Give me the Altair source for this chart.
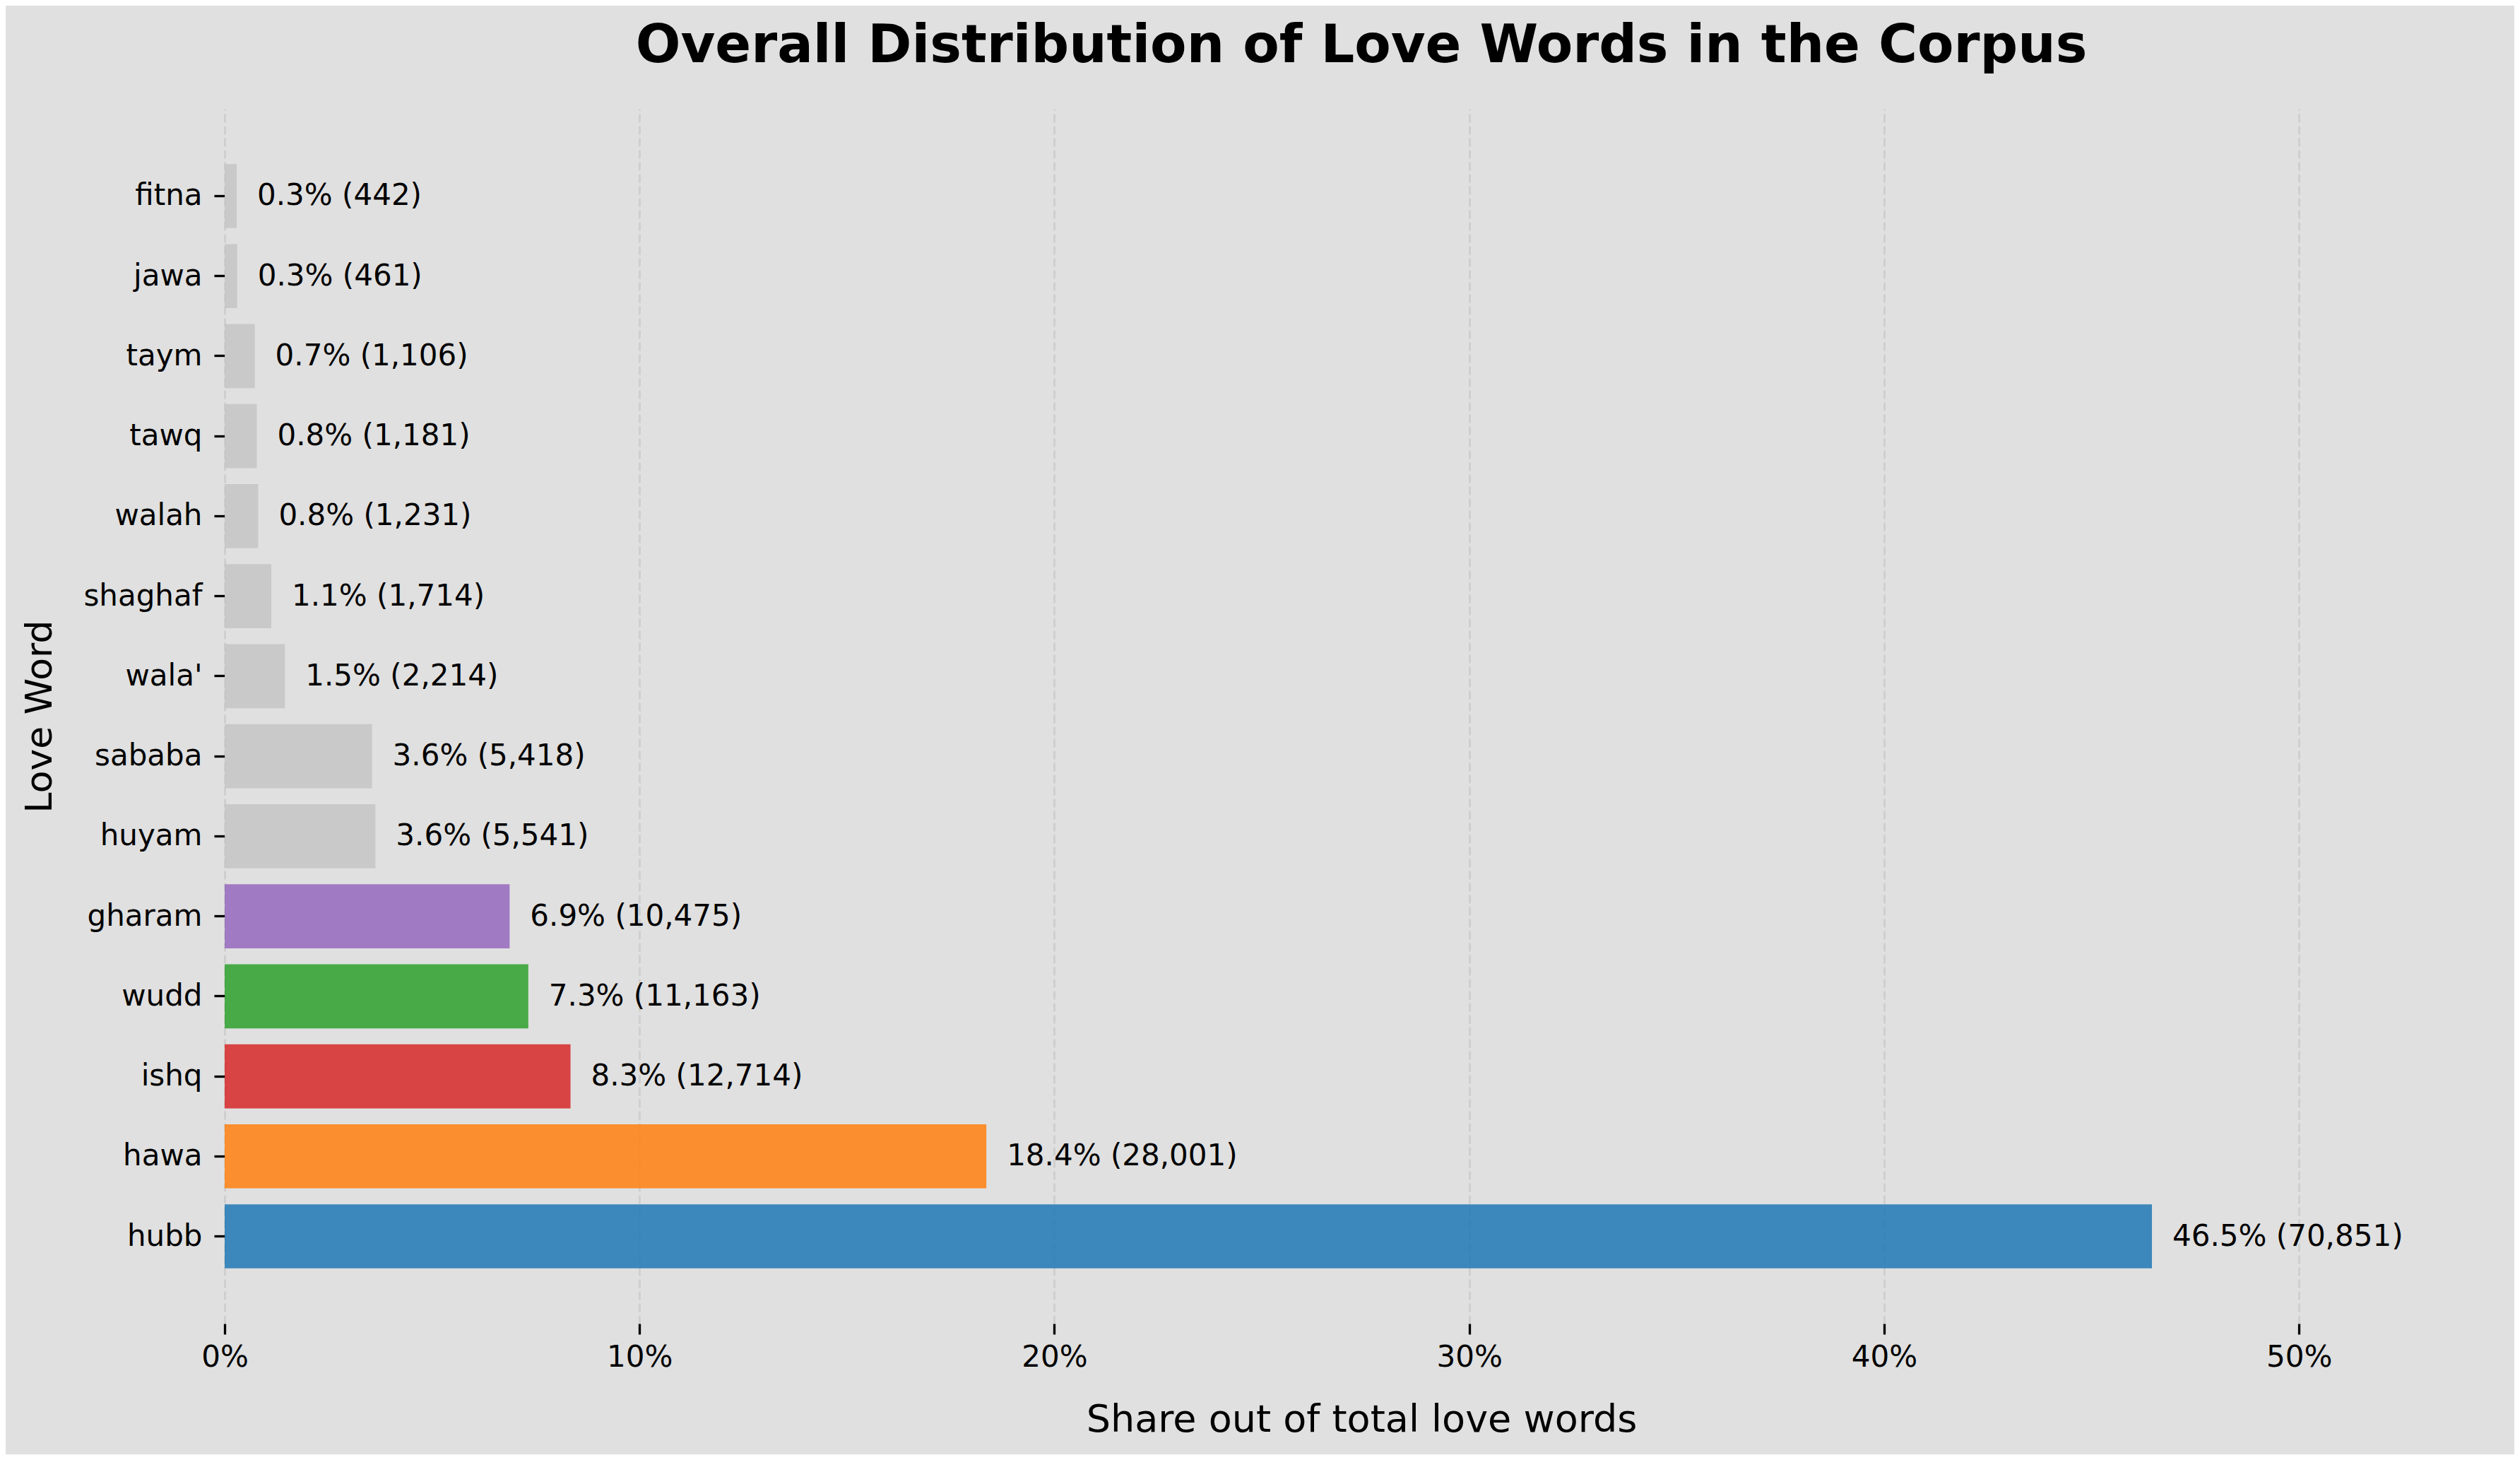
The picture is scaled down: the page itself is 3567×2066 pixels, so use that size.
import altair as alt
import pandas as pd

# Data (top to bottom)
words = ["fitna", "jawa", "taym", "tawq", "walah", "shaghaf", "wala'",
         "sababa", "huyam", "gharam", "wudd", "ishq", "hawa", "hubb"]
counts = [442, 461, 1106, 1181, 1231, 1714, 2214,
          5418, 5541, 10475, 11163, 12714, 28001, 70851]
bar_colors = ["#c4c4c4", "#c4c4c4", "#c4c4c4", "#c4c4c4", "#c4c4c4", "#c4c4c4", "#c4c4c4",
              "#c4c4c4", "#c4c4c4", "#9467bd", "#2ca02c", "#d62728", "#ff7f0e", "#1f77b4"]
x_ticks = [0.0, 0.1, 0.2, 0.3, 0.4, 0.5]

total = sum(counts)
df = pd.DataFrame({"word": words, "count": counts, "color": bar_colors})
df["share"] = df["count"] / total
df["label"] = [f"{s * 100:.1f}% ({c:,})" for s, c in zip(df["share"], df["count"])]

FONT = "DejaVu Sans"
W, H = 3218, 1719

y_enc = alt.Y(
    "word:N",
    sort=words,
    scale=alt.Scale(paddingInner=0.2, paddingOuter=0.69),
    axis=alt.Axis(
        title="Love Word",
        titleFontSize=52,
        titleFontWeight="normal",
        titleFont=FONT,
        titleColor="black",
        titleAngle=-90,
        titleAlign="center",
        titleBaseline="middle",
        titleX=-262,
        titleY=H / 2,
        labelFontSize=42,
        labelFont=FONT,
        labelColor="black",
        labelPadding=17,
        tickSize=15,
        tickWidth=3.3,
        tickColor="black",
        domain=False,
        grid=False,
    ),
)

x_enc = alt.X(
    "share:Q",
    scale=alt.Scale(domain=[0, 0.548], nice=False, zero=True),
    axis=alt.Axis(
        title="Share out of total love words",
        titleFontSize=54,
        titleFontWeight="normal",
        titleFont=FONT,
        titleColor="black",
        titleBaseline="alphabetic",
        titleY=152,
        titleX=W / 2,
        titleAlign="center",
        values=x_ticks,
        format=".0%",
        labelFontSize=42,
        labelFont=FONT,
        labelColor="black",
        labelPadding=12,
        labelFlush=False,
        tickSize=15,
        tickWidth=3.3,
        tickColor="black",
        domain=False,
        grid=True,
        gridColor="#cfcfcf",
        gridWidth=3,
        gridDash=[12, 5],
    ),
)

bars = alt.Chart(df).mark_bar(opacity=0.85).encode(
    x=x_enc,
    y=y_enc,
    color=alt.Color("color:N", scale=None),
)

texts = alt.Chart(df).mark_text(
    align="left", baseline="middle", dx=29, fontSize=42, font=FONT, color="black"
).encode(
    x="share:Q",
    y=alt.Y("word:N", sort=words),
    text="label:N",
)

chart = (
    alt.layer(bars, texts)
    .properties(
        width=W,
        height=H,
        title=alt.TitleParams(
            "Overall Distribution of Love Words in the Corpus",
            fontSize=75,
            fontWeight="bold",
            font=FONT,
            color="black",
            anchor="middle",
            frame="group",
            baseline="alphabetic",
            offset=-9,
        ),
        autosize=alt.AutoSizeParams(type="none"),
        padding={"left": 310, "top": 146, "right": 23, "bottom": 185},
        background="#e0e0e0",
    )
    .configure_view(strokeOpacity=0, fill="#e0e0e0")
)

chart.save("out.html", embed_options={"renderer": "svg", "actions": False})
